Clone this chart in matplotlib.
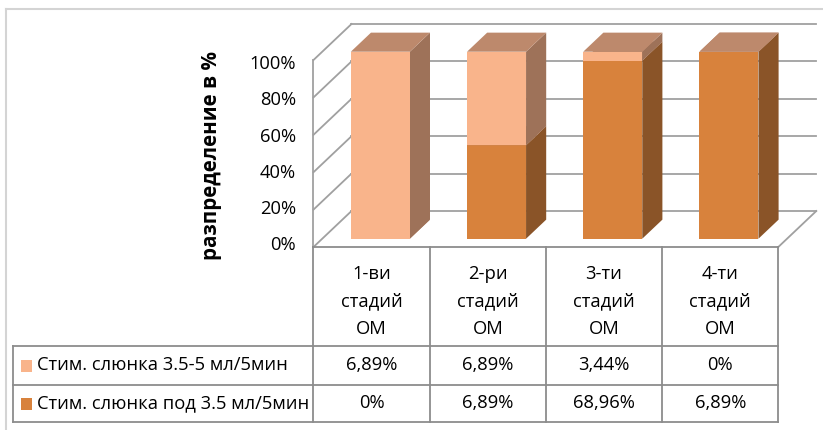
import matplotlib.pyplot as plt
from matplotlib.patches import Polygon, Rectangle

# stages and the two saliva groups (shares in %)
stages = ['1-ви\nстадий\nОМ', '2-ри\nстадий\nОМ', '3-ти\nстадий\nОМ', '4-ти\nстадий\nОМ']
series_names = ['Стим. слюнка 3.5-5 мл/5мин', 'Стим. слюнка под 3.5 мл/5мин']
saliva_high = [6.89, 6.89, 3.44, 0]
saliva_low = [0, 6.89, 68.96, 6.89]
y_ticks = [0, 20, 40, 60, 80, 100]
y_title = 'разпределение в %'

plt.rcParams['font.family'] = ['Open Sans', 'DejaVu Sans']
FS = 13.2

# colours: front, side, top for each series
peach = ('#F9B48B', '#9E7259', '#BD896C')
orange = ('#D8823C', '#8A5428', '#BD896C')
grid_c = '#A0A0A0'
table_c = '#8C8C8C'

# oblique projection of the plot box (x in category units, p in %, t = depth 0..1)
X0, CW, Y0, SY, DX, DY = 313.5, 116.2, 247.0, 1.87, 38.0, 36.0


def proj(x, p, t):
    return (X0 + x * CW + DX * t, Y0 - SY * p - DY * t)


def fmt(v):
    if v == 0:
        return '0%'
    return f'{v:.2f}'.replace('.', ',') + '%'


fig = plt.figure(figsize=(8.23, 4.30), dpi=100)
ax = fig.add_axes([0, 0, 1, 1])
ax.set_xlim(0, 823)
ax.set_ylim(430, 0)
ax.axis('off')

# chart frame
ax.plot([6, 823], [9, 9], color='#D4D4D4', lw=1.5)
ax.plot([6, 6], [9, 430], color='#D4D4D4', lw=1.5)

n = len(stages)

# walls and floor
for p in y_ticks:
    a, b = proj(0, p, 0), proj(0, p, 1)
    ax.plot([a[0], b[0]], [a[1], b[1]], color=grid_c, lw=1.3, zorder=1)
    c = proj(n, p, 1)
    ax.plot([b[0], c[0]], [b[1], c[1]], color=grid_c, lw=1.3, zorder=1)
a, b = proj(0, 0, 0), proj(0, 100, 0)
ax.plot([a[0], b[0]], [a[1], b[1]], color=grid_c, lw=1.3, zorder=1)
a, b = proj(n, 0, 0), proj(n, 0, 1)
ax.plot([a[0], b[0]], [a[1], b[1]], color=grid_c, lw=1.3, zorder=1)

# tick labels and axis title
for p in y_ticks:
    ax.text(296, 245.5 - 1.815 * p, f'{p}%', ha='right', va='center', fontsize=FS)
ax.text(212, 155, y_title, rotation=90, ha='center', va='center',
        fontsize=14.8, fontweight='bold')


def block(xc, p0, p1, cols, hw=0.254, t0=0.23, t1=0.76):
    front = [proj(xc - hw, p0, t0), proj(xc + hw, p0, t0),
             proj(xc + hw, p1, t0), proj(xc - hw, p1, t0)]
    side = [proj(xc + hw, p0, t0), proj(xc + hw, p0, t1),
            proj(xc + hw, p1, t1), proj(xc + hw, p1, t0)]
    top = [proj(xc - hw, p1, t0), proj(xc + hw, p1, t0),
           proj(xc + hw, p1, t1), proj(xc - hw, p1, t1)]
    ax.add_patch(Polygon(side, closed=True, fc=cols[1], ec='none', zorder=3))
    ax.add_patch(Polygon(front, closed=True, fc=cols[0], ec='none', zorder=3))
    ax.add_patch(Polygon(top, closed=True, fc=cols[2], ec='none', zorder=3))


# 100% stacked columns
for i in range(n):
    total = saliva_high[i] + saliva_low[i]
    low = saliva_low[i] / total * 100
    block(i + 0.5, 0, low, orange)
    block(i + 0.5, low, 100, peach)

# data table
x_left = 13
row_y = [247, 346, 385, 422]
x_end = X0 + n * CW
for k in range(n + 1):
    x = X0 + k * CW
    ax.plot([x, x], [row_y[0], row_y[-1]], color=table_c, lw=1.3)
ax.plot([X0, x_end], [row_y[0], row_y[0]], color=table_c, lw=1.3)
for y in row_y[1:]:
    ax.plot([x_left, x_end], [y, y], color=table_c, lw=1.3)
ax.plot([x_left, x_left], [row_y[1], row_y[-1]], color=table_c, lw=1.3)

for i, s in enumerate(stages):
    ax.text(X0 + (i + 0.5) * CW, 301.5, s, ha='center', va='center',
            fontsize=FS, linespacing=1.7)

rows = [saliva_high, saliva_low]
keys = [peach[0], orange[0]]
for r, (name, vals) in enumerate(zip(series_names, rows)):
    yc = (row_y[r + 1] + row_y[r + 2]) / 2
    ax.add_patch(Rectangle((21, yc - 6), 11, 12, fc=keys[r], ec='none'))
    ax.text(37, yc, name, ha='left', va='center', fontsize=FS)
    for i, v in enumerate(vals):
        ax.text(X0 + (i + 0.5) * CW, yc, fmt(v), ha='center', va='center', fontsize=FS)

fig.savefig('out.png', dpi=100)
